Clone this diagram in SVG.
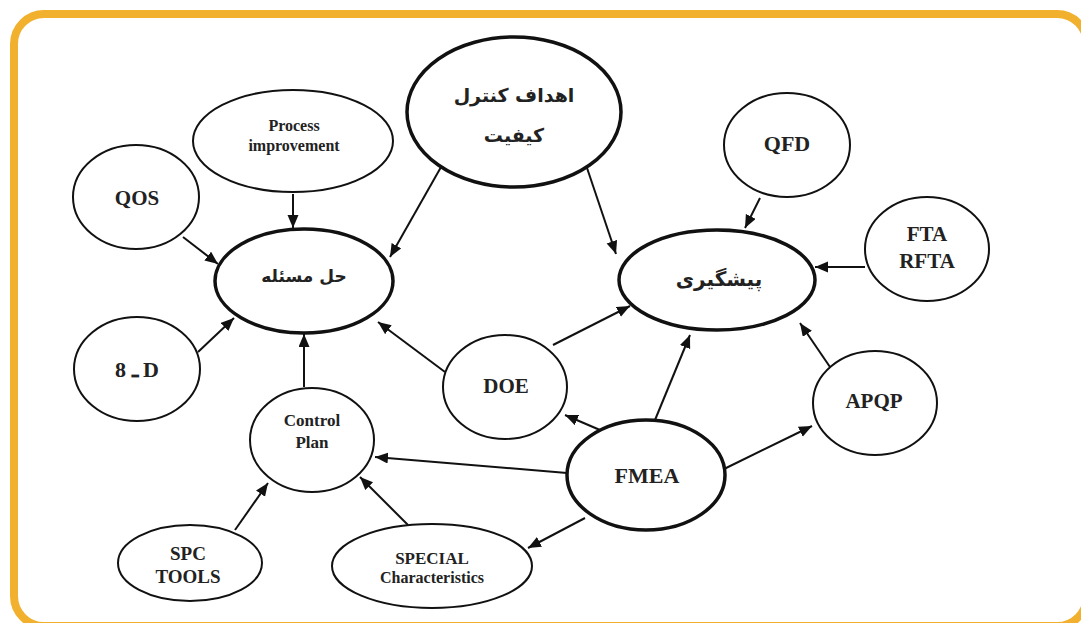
<svg xmlns="http://www.w3.org/2000/svg" width="1081" height="623" viewBox="0 0 1081 623">
<defs>
<marker id="ah" markerUnits="userSpaceOnUse" markerWidth="14" markerHeight="12" refX="13" refY="5.5" orient="auto">
<path d="M0,0 L13,5.5 L0,11 z" fill="#111"/>
</marker>
<style>
.thin{fill:#fff;stroke:#111;stroke-width:2}
.thick{fill:#fff;stroke:#111;stroke-width:3.5}
.en{font-family:"Liberation Serif","DejaVu Serif","Times New Roman",serif;font-weight:bold;fill:#222;text-anchor:middle}
.fa{font-family:"DejaVu Sans","Noto Sans",sans-serif;font-weight:bold;fill:#222;text-anchor:middle;direction:rtl}
.conn line{stroke:#111;stroke-width:2;marker-end:url(#ah)}
</style>
</defs>
<rect width="1081" height="623" fill="#fff"/>
<rect x="14" y="14" width="1073" height="612" rx="30" ry="30" fill="none" stroke="#F1B02D" stroke-width="8"/>

<g id="connectors" class="conn">
<line x1="445" y1="160" x2="390" y2="257"/>
<line x1="585" y1="162" x2="616" y2="254"/>
<line x1="293" y1="194" x2="293" y2="228"/>
<line x1="183" y1="237" x2="218" y2="264"/>
<line x1="198" y1="352" x2="234" y2="318"/>
<line x1="304" y1="387" x2="304" y2="334"/>
<line x1="445" y1="372" x2="378" y2="322"/>
<line x1="553" y1="345" x2="630" y2="306"/>
<line x1="760" y1="198" x2="745" y2="228"/>
<line x1="865" y1="267" x2="815" y2="267"/>
<line x1="830" y1="367" x2="800" y2="323"/>
<line x1="600" y1="430" x2="565" y2="415"/>
<line x1="655" y1="420" x2="690" y2="335"/>
<line x1="567" y1="473" x2="375" y2="457"/>
<line x1="722" y1="470" x2="812" y2="426"/>
<line x1="585" y1="518" x2="528" y2="548"/>
<line x1="235" y1="530" x2="268" y2="483"/>
<line x1="408" y1="525" x2="360" y2="477"/>
</g>

<g id="n-goals">
<ellipse class="thick" cx="514" cy="112" rx="107" ry="75"/>
<text class="fa" x="514" y="102" font-size="19">اهداف کنترل</text>
<text class="fa" x="514" y="142" font-size="19">کیفیت</text>
</g>
<g id="n-process">
<ellipse class="thin" cx="293" cy="141" rx="100" ry="51"/>
<text class="en" x="294" y="131" font-size="16">Process</text>
<text class="en" x="294" y="151" font-size="16">improvement</text>
</g>
<g id="n-qos">
<ellipse class="thin" cx="136" cy="197" rx="63" ry="52"/>
<text class="en" x="137" y="205" font-size="21">QOS</text>
</g>
<g id="n-solve">
<ellipse class="thick" cx="304" cy="281" rx="89" ry="52"/>
<text class="fa" x="304" y="282" font-size="17">حل مسئله</text>
</g>
<g id="n-prevent">
<ellipse class="thick" cx="717" cy="280" rx="98" ry="50"/>
<text class="fa" x="719" y="286" font-size="20">پیشگیری</text>
</g>
<g id="n-qfd">
<ellipse class="thin" cx="787" cy="145" rx="63" ry="52"/>
<text class="en" x="787" y="151" font-size="22">QFD</text>
</g>
<g id="n-fta">
<ellipse class="thin" cx="927" cy="249" rx="62" ry="52"/>
<text class="en" x="927" y="241" font-size="21">FTA</text>
<text class="en" x="927" y="268" font-size="21">RFTA</text>
</g>
<g id="n-apqp">
<ellipse class="thin" cx="875" cy="403" rx="62" ry="52"/>
<text class="en" x="874" y="408" font-size="21">APQP</text>
</g>
<g id="n-8d">
<ellipse class="thin" cx="137" cy="369" rx="63" ry="52"/>
<text class="en" x="137" y="377" font-size="22">8 ـ D</text>
</g>
<g id="n-control">
<ellipse class="thin" cx="312" cy="440" rx="62" ry="52"/>
<text class="en" x="312" y="426" font-size="17">Control</text>
<text class="en" x="312" y="448" font-size="17">Plan</text>
</g>
<g id="n-doe">
<ellipse class="thin" cx="505" cy="387" rx="62" ry="52"/>
<text class="en" x="506" y="393" font-size="21">DOE</text>
</g>
<g id="n-fmea">
<ellipse class="thick" cx="646" cy="475" rx="79" ry="55"/>
<text class="en" x="647" y="483" font-size="22">FMEA</text>
</g>
<g id="n-spc">
<ellipse class="thin" cx="190" cy="563" rx="72" ry="38"/>
<text class="en" x="188" y="560" font-size="19">SPC</text>
<text class="en" x="188" y="583" font-size="19">TOOLS</text>
</g>
<g id="n-special">
<ellipse class="thin" cx="432" cy="566" rx="100" ry="42"/>
<text class="en" x="432" y="564" font-size="17">SPECIAL</text>
<text class="en" x="432" y="583" font-size="16">Characteristics</text>
</g>
</svg>
